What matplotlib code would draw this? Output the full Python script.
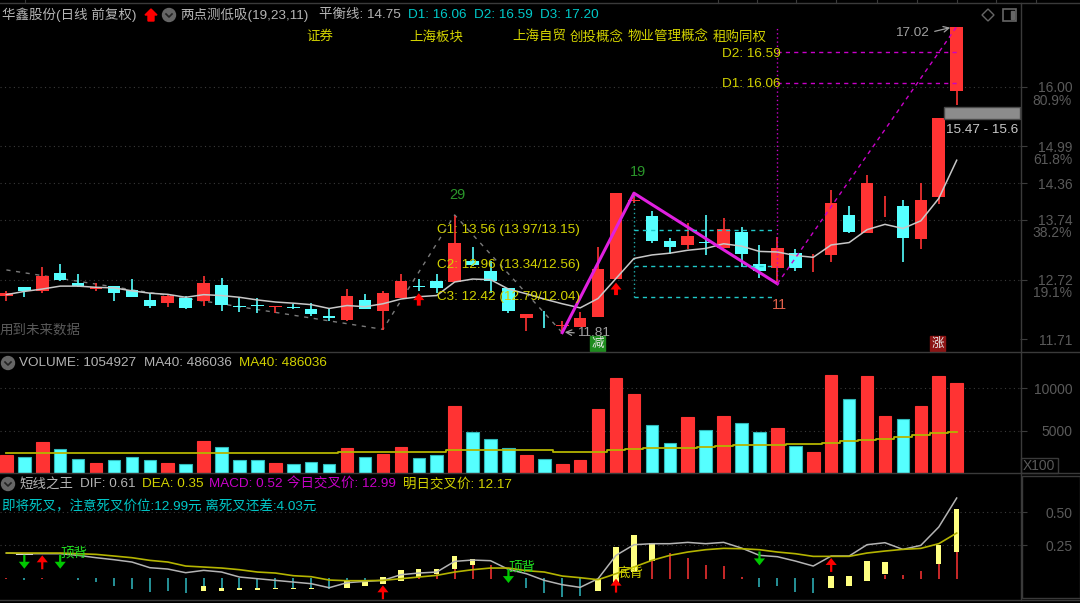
import matplotlib
matplotlib.use('Agg')
import numpy as np
import matplotlib.pyplot as plt
from matplotlib.patches import Circle, Rectangle, Polygon

plt.rcParams['font.family'] = ['Liberation Sans', 'Noto Sans CJK SC', 'DejaVu Sans']

W, H = 1080, 603
RED = '#ff3333'
CYAN = '#55ffff'
OLIVE = '#b4b400'
YELLOW = '#d2d200'
GREY = '#b4b4b4'
DIM = '#5a5a5a'
MAGENTA = '#c800c8'

# candles
opens = [12.44, 12.59, 12.52, 12.84, 12.67, 12.56, 12.61, 12.54, 12.375, 12.32, 12.41, 12.36, 12.63, 12.27,
         12.28, 12.26, 12.26, 12.22, 12.11, 12.04, 12.38, 12.19, 12.40, 12.61, 12.69, 12.68, 13.04, 12.86,
         12.57, 12.07, 12.07, 11.94, 11.91, 12.09, 12.73, 14.05, 13.80, 13.37, 13.31, 13.36, 13.25, 13.53,
         12.98, 12.91, 13.17, 12.93, 13.14, 13.82, 13.52, 13.93, 13.97, 13.41, 14.12, 15.93]
closes = [12.50, 12.53, 12.78, 12.72, 12.61, 12.59, 12.50, 12.43, 12.27, 12.44, 12.23, 12.67, 12.29, 12.26,
          12.27, 12.27, 12.23, 12.13, 12.06, 12.45, 12.22, 12.50, 12.69, 12.59, 12.57, 13.35, 12.97, 12.69,
          12.19, 12.13, 12.06, 11.95, 12.07, 12.90, 14.20, 14.08, 13.37, 13.27, 13.47, 13.34, 13.58, 13.16,
          12.87, 13.25, 12.91, 12.94, 14.03, 13.53, 14.36, 13.94, 13.43, 14.07, 15.47, 17.02]
highs = [12.52, 12.60, 12.94, 12.99, 12.81, 12.67, 12.62, 12.73, 12.50, 12.46, 12.45, 12.78, 12.75, 12.42,
         12.40, 12.27, 12.31, 12.32, 12.22, 12.56, 12.48, 12.52, 12.81, 12.73, 12.81, 13.80, 13.27, 13.03,
         12.57, 12.13, 12.18, 12.02, 12.17, 13.27, 14.20, 14.20, 13.895, 13.42, 13.68, 13.82, 13.76, 13.62,
         13.31, 13.44, 13.24, 13.15, 14.25, 13.97, 14.50, 14.14, 14.08, 14.37, 15.47, 17.02]
lows = [12.36, 12.42, 12.50, 12.70, 12.59, 12.52, 12.36, 12.42, 12.24, 12.26, 12.22, 12.28, 12.19, 12.17,
        12.15, 12.16, 12.22, 12.11, 12.02, 12.02, 12.22, 11.86, 12.40, 12.53, 12.50, 12.68, 12.95, 12.49,
        12.15, 11.84, 11.89, 11.82, 11.91, 12.09, 12.73, 14.02, 13.34, 13.15, 13.24, 13.14, 13.25, 12.93,
        12.74, 12.65, 12.87, 12.85, 13.02, 13.51, 13.52, 13.78, 13.02, 13.24, 14.01, 15.69]
balance = [12.465, 12.52, 12.56, 12.61, 12.61, 12.59, 12.58, 12.53, 12.49, 12.47, 12.42, 12.465, 12.45, 12.42,
           12.375, 12.34, 12.32, 12.295, 12.23, 12.28, 12.26, 12.31, 12.39, 12.43, 12.45, 12.68, 12.73, 12.72,
           12.56, 12.48, 12.39, 12.31, 12.24, 12.40, 12.74, 13.08, 13.14, 13.17, 13.22, 13.25, 13.33, 13.29,
           13.20, 13.19, 13.13, 13.10, 13.31, 13.35, 13.57, 13.66, 13.59, 13.72, 14.10, 14.75]
up = [1, 0, 1, 0, 0, 1, 0, 0, 0, 1, 0, 1, 0, 0, 0, 1, 0, 0, 0, 1, 0, 1, 1, 0, 0, 1, 0, 0, 0, 1, 0, 1, 1, 1, 1, 1, 0,
      0, 1, 0, 1, 0, 0, 1, 0, 1, 1, 0, 1, 1, 0, 1, 1, 1]

zigzag_idx = [0, 21, 25, 31]
zigzag_val = [12.885, 11.875, 13.82, 11.82]
wave_idx = [31, 35, 43]
wave_val = [11.82, 14.19, 12.65]
target_idx = [43, 53]
target_val = [12.65, 17.02]
c_levels = [13.56, 12.96, 12.42]
d_levels = [16.59, 16.06]
price_ticks = [16.00, 14.99, 14.36, 13.74, 12.72, 11.71]
price_grid = [16.00, 14.99, 14.36, 13.74, 12.72]

# volume, in hundreds
volume = [2117, 1882, 3606, 2822, 1607, 1215, 1490, 1882, 1490, 1215, 1098, 3763, 3097, 1490, 1490, 1215, 1098,
          1333, 1098, 2979, 1882, 2274, 3097, 1764, 2156, 7918, 4822, 4038, 2979, 2156, 1607, 1098, 1490, 7487,
          11133, 9251, 5645, 3489, 6586, 5096, 6703, 5919, 4822, 5253, 3214, 2430, 11525, 8702, 11407, 6703,
          6311, 7918, 11407, 10549]
vol_ma = [2391, 2391, 2391, 2391, 2391, 2391, 2391, 2391, 2391, 2391, 2391, 2391, 2391, 2391, 2391, 2391, 2391,
          2391, 2391, 2509, 2509, 2509, 2509, 2509, 2509, 2666, 2666, 2666, 2666, 2666, 2666, 2509, 2509, 2509,
          2666, 2783, 2900, 2900, 2900, 3058, 3175, 3293, 3293, 3293, 3410, 3410, 3567, 3724, 3881, 3998, 4273,
          4508, 4665, 4860]

# lower panel
dif = [.1925, .1875, .1875, .1875, .175, .1575, .1425, .125, .0825, .0725, .045, .0625, .05, .0125, 0, -.0125,
       -.025, -.0375, -.0675, -.03, -.02, -.0125, .03, .0425, .05, .13, .14, .135, .07, .0375, -.0125, -.045,
       -.065, 0, .175, .255, .2625, .2625, .2725, .2625, .2725, .23, .175, .165, .1325, .095, .17, .17, .255,
       .27, .22, .25, .3875, .605]
dea = [.1925, .1925, .1925, .1925, .1875, .1825, .17, .1575, .1375, .125, .095, .0875, .08, .0675, .05, .0425,
       .0225, .015, -.01, -.015, -.015, -.0125, 0, .0125, .025, .05, .0675, .08, .08, .06, .05, .02, .0075,
       -.0075, .0375, .0875, .1375, .175, .2, .2175, .2275, .225, .2175, .2, .1875, .1675, .1675, .1675, .1925,
       .2075, .22, .2275, .2625, .3425]
macd = [.0075, -.0075, .0075, 0, -.0125, -.025, -.055, -.08, -.10, -.095, -.11, -.09, -.09, -.085, -.085, -.08,
        -.08, -.08, -.075, -.055, -.05, 0, 0, .025, .04, .07, .13, .105, 0, -.07, -.11, -.14, -.13, 0, -.075, 0,
        .13, .19, .155, .10, .095, .0125, -.06, -.055, -.10, -.11, 0, 0, 0, .03, .03, .06, .11, .20]
box_idx = [11, 12, 13, 14, 15, 16, 17, 19, 20, 21, 22, 23, 24, 25, 26, 33, 34, 35, 36, 46, 47, 48, 49, 52, 53]
box_top = [-.0575, -.07, -.0675, -.0725, -.0675, -.0675, -.0675, -.02, -.02, .01, .0625, .0725, .07, .1675,
           .15, -.005, .235, .33, .27, .0225, .0225, .1325, .125, .255, .525]
box_bot = [-.0925, -.095, -.0825, -.0825, -.0775, -.0775, -.0775, -.0675, -.0575, -.0425, -.0175, .015, .035,
           .07, .1025, -.095, -.0325, .05, .1325, -.0675, -.0525, -.0175, .035, .1125, .1975]


def panel(top, bottom, ylim):
    # x index 0 sits at pixel 6.4, one bar is 17.93 px
    ax = fig.add_axes([0, 1 - bottom / H, 1020 / W, (bottom - top) / H])
    ax.set_facecolor('black')
    ax.set_xlim(-6.4 / 17.93, (1020 - 6.4) / 17.93)
    ax.set_ylim(*ylim)
    ax.set_xticks([])
    for s in ax.spines.values():
        s.set_visible(False)
    ax.yaxis.tick_right()
    ax.tick_params(axis='y', colors='#3c3c3c', labelcolor=DIM, length=5, width=0.8,
                   labelsize=10, pad=33)
    return ax


def set_ticks(ax, ticks, grid, fmt):
    ax.set_yticks(ticks)
    ax.set_yticklabels([fmt % t for t in ticks], ha='right')
    ax.hlines(grid, *ax.get_xlim(), colors='#3a3a3a', linewidth=0.8, linestyles=(0, (1, 3)), zorder=0)


def arrow(ax, i, tip, color, is_up=True, length=10, shaft=1.6):
    off = -length if is_up else length
    ax.annotate('', xy=(i, tip), xytext=(0, off), textcoords='offset points', annotation_clip=False,
                arrowprops=dict(facecolor=color, edgecolor=color, width=shaft, headwidth=8, headlength=5,
                                shrink=0, linewidth=0), zorder=6)


fig = plt.figure(figsize=(W / 100, H / 100), dpi=100, facecolor='black')
x = np.arange(len(opens))
colors = [RED if u else CYAN for u in up]

# main panel
ax1 = panel(10, 352, (11.49, 17.304))
set_ticks(ax1, price_ticks, price_grid, '%.2f')
ax1.vlines(x, lows, highs, colors=colors, linewidth=1.2, zorder=2)
bottoms = np.minimum(opens, closes)
heights = np.maximum(np.abs(np.array(closes) - np.array(opens)), 0.012)
ax1.bar(x, heights, 0.7, bottom=bottoms, color=colors, linewidth=0, zorder=3)
ax1.plot(x, balance, color='#c8c8c8', lw=1.1, zorder=4)
ax1.plot(zigzag_idx, zigzag_val, color='#7a7a7a', lw=1, ls=(0, (3, 4)), zorder=1)
ax1.plot(wave_idx, wave_val, color='#e020e0', lw=2.2, zorder=5)
ax1.plot(target_idx, target_val, color=MAGENTA, lw=1, ls=(0, (3, 3)), zorder=5)
ax1.vlines(43, 12.65, 17.02, colors=MAGENTA, linewidth=1, linestyles=(0, (1, 2)), zorder=5)
ax1.hlines(d_levels, 43, 53, colors=MAGENTA, linewidth=1, linestyles=(0, (3, 3)), zorder=5)
ax1.hlines(c_levels, 35, 42.8, colors='#20c8c8', linewidth=1, linestyles=(0, (3, 3)), zorder=5)
ax1.vlines(35, 12.42, 14.19, colors='#20a8a8', linewidth=1, linestyles=(0, (1, 2)), zorder=2)
arrow(ax1, 23, 12.49, '#ff0000', length=9, shaft=2.8)
arrow(ax1, 34, 12.67, '#ff0000', length=9, shaft=2.8)

# volume panel
ax2 = panel(352, 473, (0, 121 / 85 * 10000))
set_ticks(ax2, [10000, 5000], [10000, 5000], '%d')
ax2.bar(x, volume, 0.7, color=colors, edgecolor=[c if c == RED else '#30b8b8' for c in colors], linewidth=0.8)
ax2.plot(x, vol_ma, color=OLIVE, lw=1.3, drawstyle='steps-mid', zorder=4)

# lower panel
ax3 = panel(473, 601, (-(601 - 578.7) * 0.0075, (578.7 - 473) * 0.0075))
set_ticks(ax3, [0.50, 0.25], [0.50, 0.25], '%.2f')
macd = np.array(macd)
macd_colors = [RED if v > 0 else '#30b8c0' for v in macd]
ax3.vlines(x, np.minimum(macd, 0), np.maximum(macd, 0) + 0.0075 * (macd < 0), colors=macd_colors, linewidth=1.1, zorder=2)
ax3.bar(box_idx, np.array(box_top) - np.array(box_bot), 0.3, bottom=box_bot, color='#ffff80', linewidth=0, zorder=3)
ax3.bar([1], [.01], 0.95, bottom=[.18], color='#e8e8e8', linewidth=0, zorder=3)
ax3.plot(x, dif, color='#b4b4b4', lw=1.1, zorder=4)
ax3.plot(x, dea, color=OLIVE, lw=1.2, zorder=4)
for i, tip in [(2, .175), (21, -.05), (34, 0), (46, .155)]:
    arrow(ax3, i, tip, '#ff0000', True, 10)
for i, tip in [(1, .075), (3, .075), (28, -.0325), (42, .10)]:
    arrow(ax3, i, tip, '#00c800', False, 10)

# overlay in pixel coordinates for texts, frames and icons
pix = fig.add_axes([0, 0, 1, 1], zorder=10)
pix.set_xlim(0, W)
pix.set_ylim(H, 0)
pix.axis('off')
pix.patch.set_alpha(0)


def label(px, py, s, color=GREY, size=9.7, **kw):
    pix.text(px, py, s, color=color, fontsize=size, va='center', ha=kw.pop('ha', 'left'), **kw)


def chevron(px, py):
    pix.add_patch(Circle((px, py), 6.5, color='#666666'))
    pix.plot([px - 3, px, px + 3], [py - 1, py + 2, py - 1], color='#222222', lw=1.2)


for seg in [([0, W], [3, 3]), ([0, W], [352, 352]), ([0, W], [473, 473]), ([0, W], [600, 600]),
            ([1020.5, 1020.5], [3, 600])]:
    pix.plot(*seg, color='#3a3a3a', lw=1)
for tx in [25, 718, 757, 796, 836, 877, 917, 957, 996, 1036]:
    pix.plot([tx, tx], [0, 3], color='#3a3a3a', lw=0.8)
pix.add_patch(Rectangle((1022, 476), 58, 122, fill=False, edgecolor='#3a3a3a', lw=1))

# header of the main panel
label(2, 15, '华鑫股份(日线 前复权)')
pix.add_patch(Polygon([[151, 9], [157, 15], [154, 15], [154, 21], [148, 21], [148, 15], [145, 15]], color='#ff0000'))
chevron(169, 15)
label(180, 15, '两点测低吸(19,23,11)')
label(319, 15, '平衡线: 14.75')
label(408, 15, 'D1: 16.06', '#00c8c8')
label(474, 15, 'D2: 16.59', '#00c8c8')
label(540, 15, 'D3: 17.20', '#00c8c8')
pix.add_patch(Polygon([[988, 9], [994, 15], [988, 21], [982, 15]], fill=False, edgecolor='#666666', lw=1))
pix.add_patch(Rectangle((1003, 9), 13, 12, fill=False, edgecolor='#666666', lw=1.2))
pix.add_patch(Rectangle((1011, 11), 3, 8, color='#666666'))
for px, s in [(306, '证券'), (409, '上海板块'), (512, '上海自贸'), (570, '创投概念'), (628, '物业管理概念'), (713, '租购同权')]:
    label(px, 37, s, YELLOW)

# notes on the main panel
label(638, 172, '19', '#2a962a', size=10.5, ha='center')
label(457, 195, '29', '#2a962a', size=10.5, ha='center')
label(779, 305, '11', '#e0604a', size=10.5, ha='center')
label(437, 230, 'C1: 13.56 (13.97/13.15)', YELLOW)
label(437, 265, 'C2: 12.96 (13.34/12.56)', YELLOW)
label(437, 297, 'C3: 12.42 (12.79/12.04)', YELLOW)
label(722, 54, 'D2: 16.59', YELLOW)
label(722, 84, 'D1: 16.06', YELLOW)
label(895, 33, '17.02', '#a0a0a0')
pix.annotate('', xy=(953, 27), xytext=(932, 32), arrowprops=dict(arrowstyle='->', color='#a0a0a0', lw=0.9))
label(577, 333, '11.81', '#a0a0a0')
pix.annotate('', xy=(562, 332), xytext=(577, 333), arrowprops=dict(arrowstyle='->', color='#a0a0a0', lw=0.9))
label(0, 330, '用到未来数据', DIM)
pix.add_patch(Rectangle((590, 336), 15, 15, color='#1e8c1e'))
label(597.5, 343.5, '减', '#e8e8e8', size=9, ha='center')
pix.add_patch(Rectangle((930, 336), 15, 15, color='#8c1414'))
label(937.5, 343.5, '涨', '#e8e8e8', size=9, ha='center')
pix.add_patch(Rectangle((943.5, 107), 76.5, 11.5, facecolor='#8c8c8c', edgecolor='#4a4a4a', lw=1))
label(946, 130, '15.47 - 15.6', '#c8c8c8')
label(1072, 101, '80.9%', DIM, size=10, ha='right')
label(1072, 160, '61.8%', DIM, size=10, ha='right')
label(1072, 233, '38.2%', DIM, size=10, ha='right')
label(1072, 293, '19.1%', DIM, size=10, ha='right')

# header of the volume panel
chevron(8, 363)
label(19, 363, 'VOLUME: 1054927')
label(144, 363, 'MA40: 486036')
label(239, 363, 'MA40: 486036', YELLOW)
pix.add_patch(Rectangle((1021, 458), 37, 15, fill=False, edgecolor='#3a3a3a', lw=1))
label(1023, 466, 'X100', DIM, size=10)

# header of the lower panel
chevron(8, 484)
label(19, 484, '短线之王')
label(80, 484, 'DIF: 0.61')
label(142, 484, 'DEA: 0.35', YELLOW)
label(209, 484, 'MACD: 0.52', MAGENTA)
label(287, 484, '今日交叉价: 12.99', MAGENTA)
label(403, 484, '明日交叉价: 12.17', YELLOW)
label(2, 507, '即将死叉，注意死叉价位:12.99元 离死叉还差:4.03元', '#00c8c8')
label(60, 553, '顶背', '#20e020')
label(508, 567, '顶背', '#20e020')
label(617, 574, '底背', YELLOW)

fig.savefig('out.png', dpi=100, facecolor='black')
